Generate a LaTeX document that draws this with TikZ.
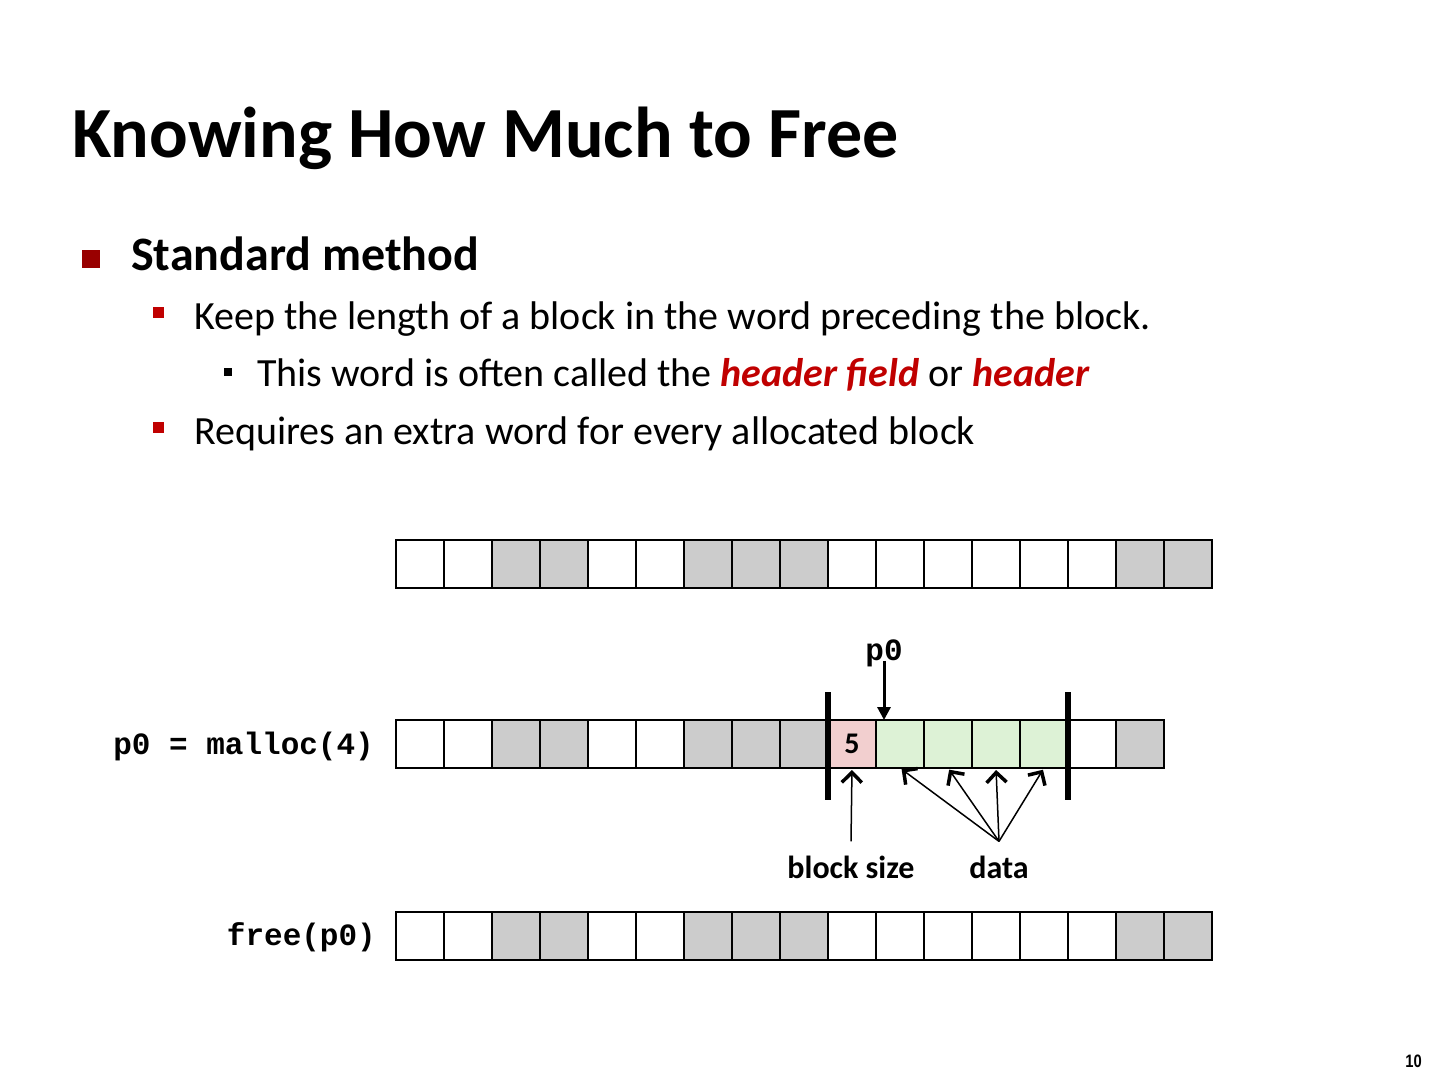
\documentclass[tikz,border=0pt]{standalone}
\usepackage{fontspec}
\setmainfont{Carlito}
\newfontfamily\codefont{Liberation Mono}
\newfontfamily\numfont[FakeStretch=0.82]{Liberation Sans}
\usetikzlibrary{arrows.meta,calc}

\definecolor{slidered}{HTML}{990000}
\definecolor{bulletred}{HTML}{C00000}
\definecolor{cellgray}{HTML}{CCCCCC}
\definecolor{hdrpink}{HTML}{F2CFCF}
\definecolor{datagreen}{HTML}{DDF2D6}

\begin{document}
\begin{tikzpicture}[
  x=1pt, y=-1pt,
  cell/.style={draw=black, line width=2pt, minimum width=48pt, minimum height=48pt,
    inner sep=0pt, outer sep=0pt, anchor=north west},
  code/.style={font=\codefont\bfseries\fontsize{31}{37}\selectfont, inner sep=0pt},
  lbl/.style={font=\bfseries\fontsize{32}{38}\selectfont, inner sep=0pt},
  ptr/.style={-{Triangle[length=13pt,width=13pt]}, line width=3pt},
  barb/.style={-{Straight Barb[length=10pt,width=20pt,line width=3.5pt]}, line width=1.5pt,
    shorten >=2pt},
  fence/.style={line width=6pt},
  bullettext/.style={anchor=base west, inner sep=0pt}
]
\useasboundingbox (0,0) rectangle (1440,1080);

% Title and bullet list.
\node[bullettext, font=\bfseries\fontsize{72}{86}\selectfont] (title) at (72,157)
  {Knowing How Much to Free};

\node[fill=slidered, minimum size=18pt, inner sep=0pt] (bulletA) at (91,259) {};
\node[bullettext, font=\bfseries\fontsize{48}{58}\selectfont] (itemA) at (131,270)
  {Standard method};

\node[fill=bulletred, minimum size=11pt, inner sep=0pt] (bulletB) at (158,312) {};
\node[bullettext, font=\fontsize{40}{48}\selectfont] (itemB) at (194,329)
  {Keep the length of a block in the word preceding the block.};

\node[fill=black, minimum size=8pt, inner sep=0pt] (bulletC) at (228,372) {};
\node[bullettext, font=\fontsize{40}{48}\selectfont] (itemC) at (257,386)
  {This word is often called the {\color{bulletred}\bfseries\itshape header field} or
   {\color{bulletred}\bfseries\itshape header}};

\node[fill=bulletred, minimum size=11pt, inner sep=0pt] (bulletD) at (158,427) {};
\node[bullettext, font=\fontsize{40}{48}\selectfont] (itemD) at (194,444)
  {Requires an extra word for every allocated block};

% Heap before the call.
\foreach \f [count=\i from 0] in {white,white,cellgray,cellgray,white,white,cellgray,
    cellgray,cellgray,white,white,white,white,white,white,cellgray,cellgray}
  \node[cell, fill=\f] (a\i) at (396+48*\i,540) {};

% Heap after malloc.
\foreach \f [count=\i from 0] in {white,white,cellgray,cellgray,white,white,cellgray,
    cellgray,cellgray,hdrpink,datagreen,datagreen,datagreen,datagreen,white,cellgray}
  \node[cell, fill=\f] (m\i) at (396+48*\i,720) {};
\node[lbl, font=\bfseries\fontsize{30}{36}\selectfont] at (m9) {5};
\draw[fence] (828,692) -- (828,800);
\draw[fence] (1068,692) -- (1068,800);
\node[code, anchor=east] (malloclbl) at (374,746) {p0 = malloc(4)};

% Pointer and labels.
\node[code] (p0lbl) at (884,653) {p0};
\draw[ptr] ($(p0lbl.south)+(0,-6)$) -- (p0lbl.south |- m10.north);

\node[lbl, anchor=base] (sizelbl) at (851,878) {block size};
\draw[barb] ($(sizelbl.north)+(0,-14)$) -- (m9.south);

\node[lbl, anchor=base] (datalbl) at (999,878) {data};
\coordinate (datatop) at ($(datalbl.north)+(0,-14)$);
\foreach \j in {10,...,13}
  \draw[barb] (datatop) -- (m\j.south);

% Heap after free.
\foreach \f [count=\i from 0] in {white,white,cellgray,cellgray,white,white,cellgray,
    cellgray,cellgray,white,white,white,white,white,white,cellgray,cellgray}
  \node[cell, fill=\f] (f\i) at (396+48*\i,912) {};
\node[code, anchor=east] (freelbl) at (376,937) {free(p0)};

\node[anchor=base east, inner sep=0pt, font=\numfont\bfseries\fontsize{18}{22}\selectfont]
  (pagenum) at (1422,1067) {10};

\end{tikzpicture}
\end{document}
